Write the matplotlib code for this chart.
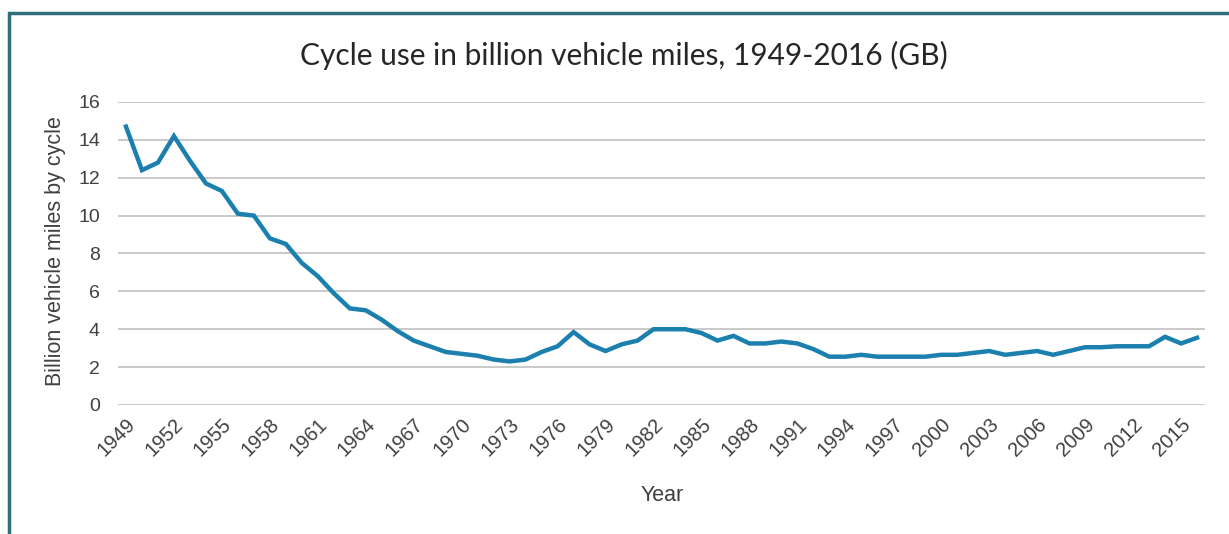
import matplotlib

matplotlib.use("Agg")
import matplotlib.pyplot as plt
from matplotlib.patches import Rectangle

# Cycle use in billion vehicle miles (GB)
years = list(range(1949, 2017))
miles = [
    14.7, 12.4, 12.8, 14.2, 12.9, 11.7, 11.3, 10.1, 10.0, 8.8,  # 1949-1958
    8.5, 7.5, 6.8, 5.9, 5.1, 5.0, 4.5, 3.9, 3.4, 3.1,  # 1959-1968
    2.8, 2.7, 2.6, 2.4, 2.3, 2.4, 2.8, 3.1, 3.85, 3.2,  # 1969-1978
    2.85, 3.2, 3.4, 4.0, 4.0, 4.0, 3.8, 3.4, 3.65, 3.25,  # 1979-1988
    3.25, 3.35, 3.25, 2.95, 2.55, 2.55, 2.65, 2.55, 2.55, 2.55,  # 1989-1998
    2.55, 2.65, 2.65, 2.75, 2.85, 2.65, 2.75, 2.85, 2.65, 2.85,  # 1999-2008
    3.05, 3.05, 3.1, 3.1, 3.1, 3.6, 3.25, 3.55,  # 2009-2016
]
tick_years = list(range(1949, 2016, 3))
y_ticks = [0, 2, 4, 6, 8, 10, 12, 14, 16]

title = "Cycle use in billion vehicle miles, 1949-2016 (GB)"
x_label = "Year"
y_label = "Billion vehicle miles by cycle"

line_color = "#1b80ad"
grid_color = "#c9c9c9"
frame_color = "#2f6e7b"
text_color = "#404040"

plt.rcParams["font.family"] = ["Liberation Sans", "DejaVu Sans"]

fig = plt.figure(figsize=(12.29, 5.34), dpi=100)
ax = fig.add_axes([0.096, 0.2416, 0.8845, 0.5674])

xs = list(range(len(years)))
ax.plot(xs, miles, color=line_color, lw=3.2, solid_joinstyle="miter", zorder=3)

ax.set_xlim(-0.5, len(years) - 0.5)
ax.set_ylim(0, 16)
ax.set_yticks(y_ticks)
ax.set_yticklabels([str(v) for v in y_ticks], fontsize=14, color=text_color)
ax.set_xticks([years.index(y) for y in tick_years])
ax.set_xticklabels(
    [str(y) for y in tick_years],
    rotation=45,
    ha="right",
    va="top",
    rotation_mode="anchor",
    fontsize=14.5,
    color=text_color,
)
ax.tick_params(axis="both", length=0)
ax.tick_params(axis="y", pad=13)
ax.tick_params(axis="x", pad=7)
ax.grid(axis="y", color=grid_color, lw=1.4)
ax.set_axisbelow(True)
for s in ax.spines.values():
    s.set_visible(False)

fig.text(0.508, 0.897, title, ha="center", va="center", fontsize=21.5,
         family=["Lato", "DejaVu Sans"], color="#262626")
fig.text(0.539, 0.073, x_label, ha="center", va="center", fontsize=15.5, color=text_color)
fig.text(0.045, 0.53, y_label, ha="center", va="center", rotation=90,
         fontsize=15.5, color=text_color)

# chart frame: only top and left edges visible in the crop
fig.patches.append(Rectangle((0.0075, -0.1), 1.2, 1.075, transform=fig.transFigure,
                             fill=False, edgecolor=frame_color, lw=2.5))

fig.savefig("out.png", dpi=100)
